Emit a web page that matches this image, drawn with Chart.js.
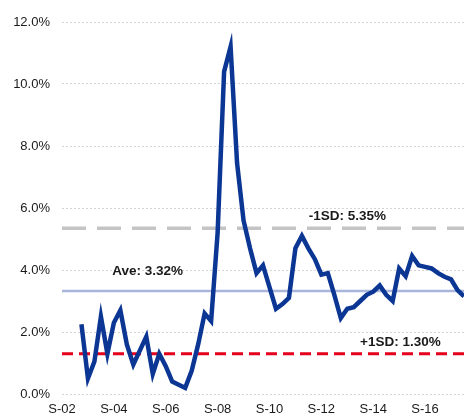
<!DOCTYPE html>
<html>
<head>
<meta charset="utf-8">
<script src="https://cdn.jsdelivr.net/npm/chart.js@4/dist/chart.umd.min.js"></script>
<style>
  html, body { margin: 0; padding: 0; background: #ffffff; }
  #wrap { width: 464px; height: 418px; position: relative; }
</style>
</head>
<body>
<div id="wrap"><canvas id="chart"></canvas></div>
<script>
// Quarterly periods (S = Sep, D = Dec, M = Mar, J = Jun)
const quarters = [
  'S-02','D-02','M-03','J-03','S-03','D-03','M-04','J-04',
  'S-04','D-04','M-05','J-05','S-05','D-05','M-06','J-06',
  'S-06','D-06','M-07','J-07','S-07','D-07','M-08','J-08',
  'S-08','D-08','M-09','J-09','S-09','D-09','M-10','J-10',
  'S-10','D-10','M-11','J-11','S-11','D-11','M-12','J-12',
  'S-12','D-12','M-13','J-13','S-13','D-13','M-14','J-14',
  'S-14','D-14','M-15','J-15','S-15','D-15','M-16','J-16',
  'S-16','D-16','M-17','J-17','S-17','D-17','M-18'
];

// Axis labels shown along the bottom
const tickLabels = ['S-02','S-04','S-06','S-08','S-10','S-12','S-14','S-16'];

// Rate, % (quarterly)
const rate = [
  null, null, null, 2.25, 0.50, 1.05, 2.50, 1.30,
  2.30, 2.70, 1.60, 0.95, 1.40, 1.85, 0.65, 1.30,
  0.90, 0.40, 0.30, 0.20, 0.75, 1.60, 2.60, 2.35,
  5.20, 10.40, 11.20, 7.45, 5.60, 4.70, 3.90, 4.15,
  3.45, 2.75, 2.90, 3.10, 4.70, 5.10, 4.70, 4.35,
  3.85, 3.90, 3.20, 2.45, 2.75, 2.80, 3.00, 3.20,
  3.30, 3.50, 3.20, 3.00, 4.05, 3.80, 4.45, 4.15,
  4.10, 4.05, 3.90, 3.78, 3.70, 3.35, 3.15
];

// Reference levels
const average = 3.32;
const minus1SD = 5.35;
const plus1SD = 1.30;

const flat = v => quarters.map(() => v);

// Text annotations: [text, level, anchor position along the axis (category units), lift in px]
const notes = [
  ['Ave: 3.32%', average, 13.2, 20],
  ['-1SD: 5.35%', minus1SD, 44.0, 12],
  ['+1SD: 1.30%', plus1SD, 52.2, 11]
];

const notePlugin = {
  id: 'levelNotes',
  afterDatasetsDraw(chart) {
    const { ctx, scales: { x, y } } = chart;
    ctx.save();
    ctx.font = 'bold 13.5px "Liberation Sans", Arial, sans-serif';
    ctx.fillStyle = '#1a1a1a';
    ctx.textAlign = 'center';
    ctx.textBaseline = 'middle';
    notes.forEach(([text, level, pos, lift]) => {
      ctx.fillText(text, x.getPixelForValue(pos), y.getPixelForValue(level) - lift);
    });
    ctx.restore();
  }
};

new Chart(document.getElementById('chart'), {
  type: 'line',
  data: {
    labels: quarters,
    datasets: [
      {
        data: rate,
        borderColor: '#0b3693',
        borderWidth: 4.5,
        pointRadius: 0,
        tension: 0,
        spanGaps: false
      },
      {
        data: flat(average),
        borderColor: '#aab5dc',
        borderWidth: 2.5,
        pointRadius: 0
      },
      {
        data: flat(minus1SD),
        borderColor: '#c4c4c4',
        borderWidth: 3.5,
        borderDash: [24, 11],
        pointRadius: 0
      },
      {
        data: flat(plus1SD),
        borderColor: '#e5001c',
        borderWidth: 3,
        borderDash: [11, 6],
        pointRadius: 0
      }
    ]
  },
  options: {
    responsive: true,
    maintainAspectRatio: false,
    animation: false,
    layout: { padding: { top: 22, right: 0, bottom: 0, left: 0 } },
    plugins: {
      legend: { display: false },
      tooltip: { enabled: false }
    },
    scales: {
      x: {
        type: 'category',
        offset: false,
        grid: { display: false, drawTicks: false },
        border: { display: false },
        afterFit(scale) {
          scale.height = 24;
          scale.paddingLeft = 0;
          scale.paddingRight = 0;
        },
        ticks: {
          autoSkip: false,
          maxRotation: 0,
          padding: 8,
          color: '#1a1a1a',
          font: { family: '"Liberation Sans", Arial, sans-serif', size: 13 },
          callback(value) {
            const lab = this.getLabelForValue(value);
            return tickLabels.includes(lab) ? lab : '';
          }
        }
      },
      y: {
        min: 0,
        max: 12,
        grid: {
          color: '#d4d4d4',
          lineWidth: 1,
          drawTicks: false
        },
        border: { display: false, dash: [2, 2] },
        afterFit(scale) { scale.width = 62; },
        ticks: {
          stepSize: 2,
          padding: 12,
          color: '#1a1a1a',
          font: { family: '"Liberation Sans", Arial, sans-serif', size: 13 },
          callback: v => v.toFixed(1) + '%'
        }
      }
    }
  },
  plugins: [notePlugin]
});
</script>
</body>
</html>
